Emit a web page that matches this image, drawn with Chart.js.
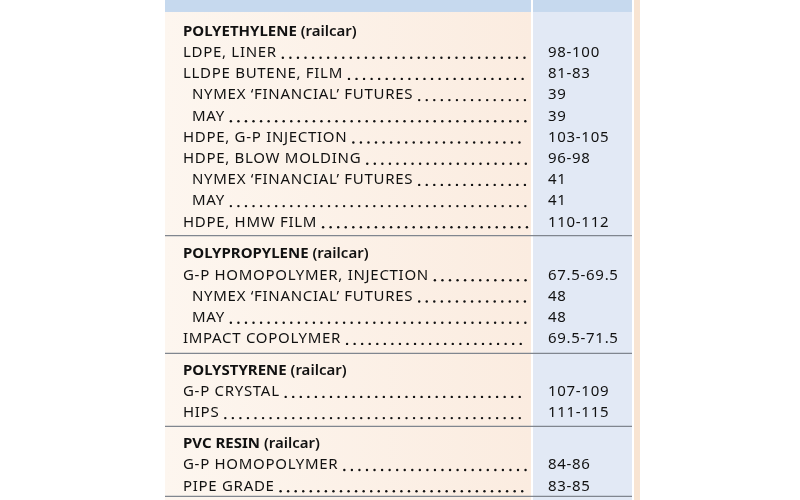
<!DOCTYPE html>
<html><head><meta charset="utf-8">
<script src="https://cdn.jsdelivr.net/npm/chart.js@4/dist/chart.umd.min.js"></script>
<style>html,body{margin:0;padding:0;background:#fff}#w{width:800px;height:500px}</style>
</head><body><div id="w"><canvas id="c"></canvas></div>
<script>
const sections = ["POLYETHYLENE", "POLYPROPYLENE", "POLYSTYRENE", "PVC RESIN"];
const sectionRows = [0, 10.5, 16, 19.45];
const grades = [
 "LDPE, LINER","LLDPE BUTENE, FILM","NYMEX \u2018FINANCIAL\u2019 FUTURES","MAY","HDPE, G-P INJECTION","HDPE, BLOW MOLDING","NYMEX \u2018FINANCIAL\u2019 FUTURES","MAY","HDPE, HMW FILM",
 "G-P HOMOPOLYMER, INJECTION","NYMEX \u2018FINANCIAL\u2019 FUTURES","MAY","IMPACT COPOLYMER",
 "G-P CRYSTAL","HIPS",
 "G-P HOMOPOLYMER","PIPE GRADE"];
const indented = [0,0,1,1,0,0,1,1,0, 0,1,1,0, 0,0, 0,0];
const prices = ["98-100","81-83","39","39","103-105","96-98","41","41","110-112",
 "67.5-69.5","48","48","69.5-71.5","107-109","111-115","84-86","83-85"];
const gradeRows = [1,2,3,4,5,6,7,8,9, 11.5,12.5,13.5,14.5, 17,18, 20.45,21.45];
const separatorRows = [9.7, 15.25, 18.7, 22.0];
const headers = ["Resin Grade","\u00a2/lb"];

const tablePlugin = {
 id:'table',
 beforeDatasetsDraw(chart){
  const {ctx, scales:{x,y}} = chart;
  const X = v=>x.getPixelForValue(v), Y = v=>y.getPixelForValue(v);
  const L=X(165), M=X(532), R=X(632), S=X(640);
  ctx.save();
  const g = ctx.createLinearGradient(L,0,M,0);
  g.addColorStop(0,'#fdf6ef'); g.addColorStop(1,'#fbece0');
  ctx.fillStyle=g; ctx.fillRect(L,0,M-L,500);
  ctx.fillStyle='#e2e9f5'; ctx.fillRect(M,0,R-M,500);
  ctx.fillStyle='#f8e4d2'; ctx.fillRect(R,0,S-R,500);
  ctx.fillStyle='#c6d9ee'; ctx.fillRect(L,0,R-L,Y(-0.85));
  ctx.fillStyle='#fff'; ctx.fillRect(M-1,0,2,500); ctx.fillRect(R,0,2,500);
  ctx.fillStyle='#1f2d4d'; ctx.font='bold 20px "Open Sans"'; ctx.textBaseline='middle';
  ctx.fillText(headers[0], X(183), Y(-1.7)); ctx.fillText(headers[1], X(548), Y(-1.7));
  ctx.strokeStyle='#80868f'; ctx.lineWidth=1.3;
  separatorRows.forEach(r=>{ctx.beginPath();ctx.moveTo(L,Y(r));ctx.lineTo(R,Y(r));ctx.stroke();});
  ctx.fillStyle='#111';
  sections.forEach((s,i)=>{
   ctx.font='bold 15px "Noto Sans"'; ctx.fillText(s, X(183), Y(sectionRows[i])+1.5);
   const w=ctx.measureText(s+' ').width;
   ctx.font='600 15px "Noto Sans"'; ctx.fillText('(railcar)', X(183)+w, Y(sectionRows[i])+1.5);
  });
  ctx.font='15px "Noto Sans"'; ctx.letterSpacing='0.7px';
  grades.forEach((t,i)=>{
   const x0 = X(indented[i]?192:183), yy=Y(gradeRows[i])+1.5;
   ctx.fillText(t,x0,yy);
   const start = x0+ctx.measureText(t).width+5;
   for(let d=start; d<=X(526); d+=7.55){ ctx.beginPath(); ctx.arc(d+1, yy+5, 1.2, 0, Math.PI*2); ctx.fill(); }
   ctx.fillText(prices[i], X(548), yy);
  });
  ctx.restore();
 }
};
new Chart(document.getElementById('c'),{
 type:'scatter',
 data:{datasets:[{data:gradeRows.map(r=>({x:548,y:r})),pointRadius:0}]},
 options:{responsive:true,maintainAspectRatio:false,animation:false,
  layout:{padding:0},
  plugins:{legend:{display:false},tooltip:{enabled:false}},
  scales:{x:{type:'linear',min:0,max:800,display:false},
          y:{type:'linear',min:-1.415,max:22.17,reverse:true,display:false}}},
 plugins:[tablePlugin]
});
</script></body></html>
